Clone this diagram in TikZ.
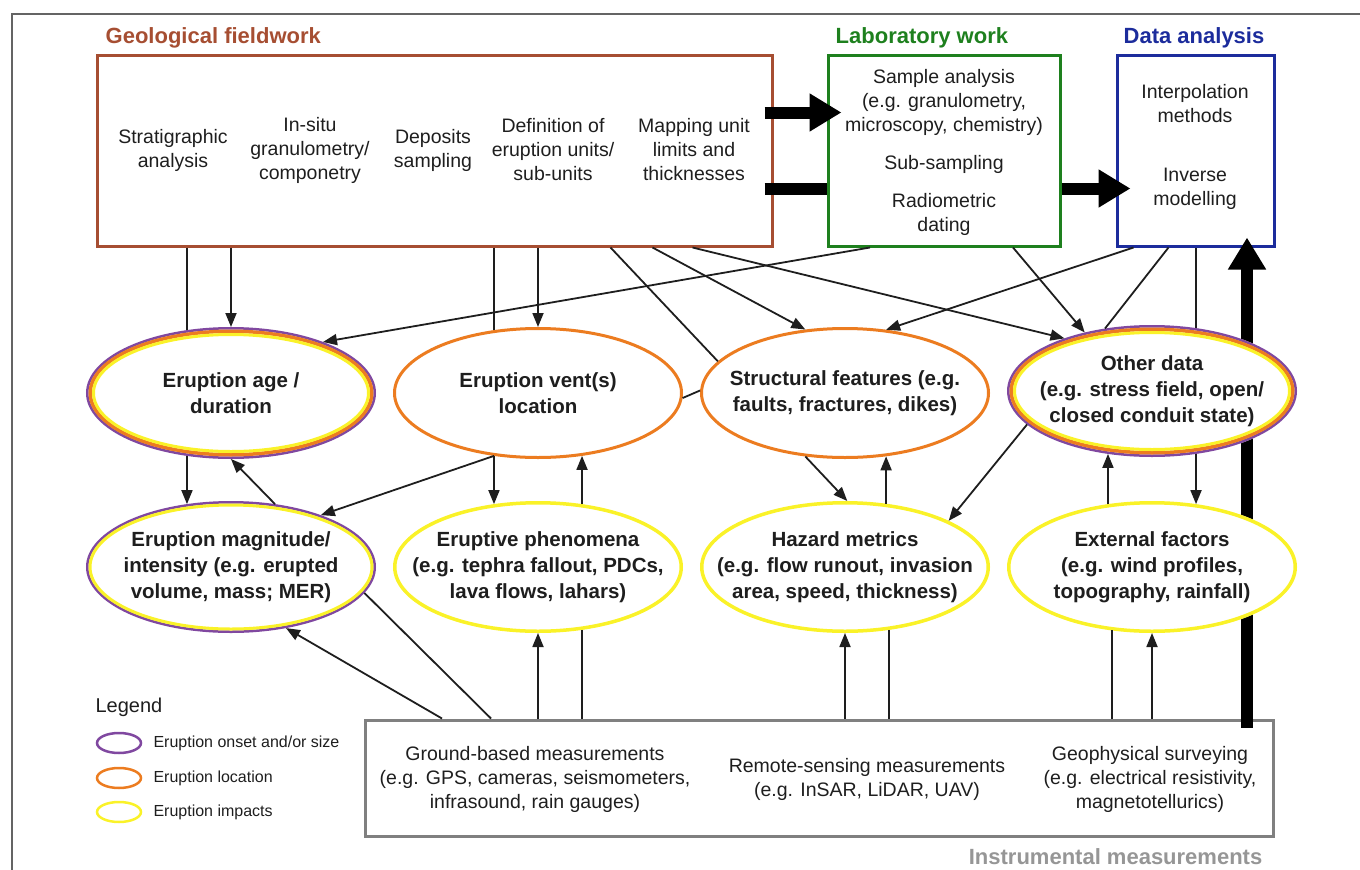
\documentclass[tikz,border=0pt]{standalone}
\usepackage{fontspec}
\setmainfont{Liberation Sans}
\usetikzlibrary{arrows.meta,shapes.geometric}

\definecolor{fwc}{RGB}{166,78,50}
\definecolor{labc}{RGB}{30,128,30}
\definecolor{datc}{RGB}{28,44,156}
\definecolor{purp}{RGB}{128,72,160}
\definecolor{orng}{RGB}{236,124,32}
\definecolor{yell}{RGB}{250,242,40}
\definecolor{instc}{RGB}{128,128,128}
\definecolor{ttlgray}{RGB}{150,150,150}
\definecolor{framec}{RGB}{100,100,100}
\definecolor{ink}{RGB}{30,30,30}

\tikzset{
  box/.style={draw, line width=3pt, inner sep=0pt},
  ttl/.style={font=\fontsize{22}{26}\selectfont\bfseries, anchor=base west, inner sep=0pt},
  item/.style={align=center, text=ink, font=\fontsize{19.5}{24}\selectfont},
  ering/.style={ellipse, fill=white, minimum width=290pt, minimum height=132pt, inner sep=0pt, outer sep=0pt},
  etxt/.style={align=center, text=ink, font=\fontsize{20.5}{26}\selectfont\bfseries},
  link/.style={line width=1.8pt, ink},
  arr/.style={link, -{Triangle[length=14pt,width=11pt]}},
  bigarr/.style={line width=12pt, -{Triangle[length=32pt,width=36pt]}},
  bigline/.style={line width=12pt}
}

\begin{document}
\begin{tikzpicture}[x=1pt,y=-1pt]
\useasboundingbox (0,0) rectangle (1360,870);
\draw[framec, line width=1.5pt] (12,870) -- (12,14) -- (1360,14);

% boxes
\node[box, draw=fwc, minimum width=675pt, minimum height=191pt] (fw) at (434.5,150.5) {};
\node[box, draw=labc, minimum width=232pt, minimum height=191pt] (lab) at (944,150.5) {};
\node[box, draw=datc, minimum width=157pt, minimum height=191pt] (data) at (1195.5,150.5) {};
\node[box, draw=instc, minimum width=908pt, minimum height=116pt] (inst) at (819,778) {};

\node[ttl, text=fwc] (fwttl) at ([xshift=10pt,yshift=10pt]fw.north west) {Geological fieldwork};
\node[ttl, text=labc] (labttl) at ([xshift=9pt,yshift=10pt]lab.north west) {Laboratory work};
\node[ttl, text=datc] (datttl) at ([xshift=8pt,yshift=10pt]data.north west) {Data analysis};
\node[ttl, text=ttlgray, anchor=base east] (instttl) at ([xshift=-12pt,yshift=-27pt]inst.south east) {Instrumental measurements};

\node[item] (strat) at (173,150) {Stratigraphic\\analysis};
\node[item] (insitu) at (310,150) {In-situ\\granulometry/\\componetry};
\node[item] (depo) at (433,150) {Deposits\\sampling};
\node[item] (defin) at (553,150) {Definition of\\eruption units/\\sub-units};
\node[item] (mapunit) at (694,150) {Mapping unit\\limits and\\thicknesses};

\node[item] (samp) at (944,102) {Sample analysis\\(e.g. granulometry,\\microscopy, chemistry)};
\node[item] (subsamp) at (944,164) {Sub-sampling};
\node[item] (radio) at (944,214) {Radiometric\\dating};

\node[item] (interp) at (1195,104) {Interpolation\\methods};
\node[item] (inverse) at (1195,189) {Inverse\\modelling};

\node[item] (ground) at (535,779) {Ground-based measurements\\(e.g. GPS, cameras, seismometers,\\infrasound, rain gauges)};
\node[item] (remote) at (867,779) {Remote-sensing measurements\\(e.g. InSAR, LiDAR, UAV)};
\node[item] (geoph) at (1150,779) {Geophysical surveying\\(e.g. electrical resistivity,\\magnetotellurics)};

% thick arrows
\draw[bigarr] ([xshift=-9pt,yshift=38pt]fw.east) -- ([xshift=15pt,yshift=38pt]lab.west);
\draw[bigline] ([xshift=-9pt,yshift=-38pt]fw.east) -- ([yshift=-38pt]lab.west);
\draw[bigarr] ([yshift=-38pt]lab.east) -- ([xshift=15pt,yshift=-38pt]data.west);
\coordinate (gnd) at ([xshift=428pt,yshift=-9pt]inst.north);
\draw[bigarr, shorten >=-10pt] (gnd) -- (gnd |- data.south);

% ellipses
\node[ering, label={[etxt]center:{Eruption age /\\duration}}] (age) at (231,393) {};
\node[ering, label={[etxt]center:{Eruption vent(s)\\location}}] (vent) at (538,393) {};
\node[ering, label={[etxt]center:{Structural features (e.g.\\faults, fractures, dikes)}}] (struct) at (845,393) {};
\node[ering, label={[etxt]center:{Other data\\(e.g. stress field, open/\\closed conduit state)}}] (other) at (1152,391) {};
\node[ering, label={[etxt]center:{Eruption magnitude/\\intensity (e.g. erupted\\volume, mass; MER)}}] (mag) at (231,567) {};
\node[ering, label={[etxt]center:{Eruptive phenomena\\(e.g. tephra fallout, PDCs,\\lava flows, lahars)}}] (phen) at (538,567) {};
\node[ering, label={[etxt]center:{Hazard metrics\\(e.g. flow runout, invasion\\area, speed, thickness)}}] (hazard) at (845,567) {};
\node[ering, label={[etxt]center:{External factors\\(e.g. wind profiles,\\topography, rainfall)}}] (ext) at (1152,567) {};

\foreach \n in {age,other} {
  \draw[purp, line width=2.5pt] (\n.center) ellipse [x radius=143.75pt, y radius=64.75pt];
  \draw[orng, line width=3.5pt] (\n.center) ellipse [x radius=140.75pt, y radius=61.75pt];
  \draw[yell, line width=3pt] (\n.center) ellipse [x radius=137.5pt, y radius=58.5pt];
}
\draw[purp, line width=2.5pt] (mag.center) ellipse [x radius=143.75pt, y radius=64.75pt];
\draw[yell, line width=3pt] (mag.center) ellipse [x radius=141pt, y radius=62pt];
\foreach \n in {vent,struct}
  \draw[orng, line width=3pt] (\n.center) ellipse [x radius=143.5pt, y radius=64.5pt];
\foreach \n in {phen,hazard,ext}
  \draw[yell, line width=3.5pt] (\n.center) ellipse [x radius=143.25pt, y radius=64.25pt];

% fieldwork and lab to the first row
\draw[link] (fw.south -| age.125) -- (age.125);
\draw[arr] (fw.south -| age.north) -- (age.north);
\draw[link] (fw.south -| vent.125) -- (vent.125);
\draw[arr] (fw.south -| vent.north) -- (vent.north);
\draw[link] ([xshift=176pt]fw.south) -- (struct.166);
\draw[arr] ([xshift=218pt]fw.south) -- (struct.122);
\draw[arr] ([xshift=258pt]fw.south) -- (other.149);
\draw[arr] ([xshift=-74pt]lab.south) -- (age.29);
\draw[arr] ([xshift=69pt]lab.south) -- (other.139);
\draw[arr] ([xshift=-62pt]data.south) -- (struct.57);
\draw[link] ([xshift=-27pt]data.south) -- (other.127);
\draw[link] (data.south -| other.55) -- (other.55);

% between the ellipses
\draw[link] (vent.-2) -- (struct.179);
\draw[arr] (age.235) -- (mag.125);
\draw[arr] (mag.55) -- (age.south);
\draw[arr] (vent.235) -- (mag.30);
\draw[arr] (vent.235) -- (phen.125);
\draw[arr] (phen.55) -- (vent.305);
\draw[arr] (struct.238) -- (hazard.88);
\draw[arr] (hazard.57) -- (struct.303);
\draw[arr] (other.195) -- (hazard.24);
\draw[arr] (ext.125) -- (other.235);
\draw[arr] (other.305) -- (ext.55);

% instruments to the second row
\draw[arr] ([xshift=-377pt]inst.north) -- (mag.-48);
\draw[link] ([xshift=-328pt]inst.north) -- (mag.-11);
\draw[arr] (inst.north -| phen.south) -- (phen.south);
\draw[link] (inst.north -| phen.305) -- (phen.305);
\draw[arr] (inst.north -| hazard.south) -- (hazard.south);
\draw[link] (inst.north -| hazard.305) -- (hazard.305);
\draw[link] (inst.north -| ext.238) -- (ext.238);
\draw[arr] (inst.north -| ext.south) -- (ext.south);

% legend
\node[item, anchor=west, font=\fontsize{20}{24}\selectfont] (lgd) at (92,707) {Legend};
\foreach \c/\t/\y [count=\i] in {purp/{Eruption onset and/or size}/743, orng/{Eruption location}/778, yell/{Eruption impacts}/812} {
  \draw[\c, line width=2.5pt] (119,\y) ellipse [x radius=22pt, y radius=10pt];
  \node[item, anchor=west, font=\fontsize{16}{19}\selectfont] (key\i) at (150,\y) {\t};
}
\end{tikzpicture}
\end{document}
